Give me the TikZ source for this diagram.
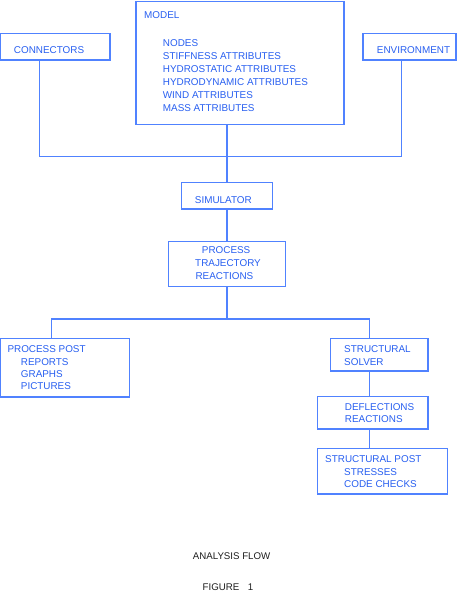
\documentclass[tikz,border=0pt]{standalone}
\usepackage{fontspec}
\setmainfont{Liberation Sans}
\definecolor{txtblue}{RGB}{40,95,240}
\definecolor{lineblue}{RGB}{80,130,255}
\definecolor{capgrey}{RGB}{30,30,30}
\tikzset{
  box/.style={draw=lineblue, line width=1.3pt, rectangle, inner sep=0pt},
  lbl/.style={anchor=base west, inner sep=0pt, text=txtblue, font=\fontsize{9.9}{11}\selectfont},
  captxt/.style={anchor=base west, inner sep=0pt, text=capgrey, font=\fontsize{9.7}{11}\selectfont},
  wire/.style={draw=lineblue, line width=1.3pt}
}
\begin{document}
\begin{tikzpicture}[x=1pt,y=-1pt]
\useasboundingbox (0,0) rectangle (457,591);
% boxes
\node[box, minimum width=208pt, minimum height=123.2pt] (model) at (240,63.1) {};
\node[box, minimum width=109.3pt, minimum height=26.7pt] (conn) at (55.3,46.7) {};
\node[box, minimum width=93pt, minimum height=26.7pt] (env) at (409.5,46.7) {};
\node[box, minimum width=90.6pt, minimum height=26.3pt] (sim) at (227,195.8) {};
\node[box, minimum width=117pt, minimum height=45.4pt] (proc) at (227.2,264) {};
\node[box, minimum width=129pt, minimum height=58.7pt] (ppost) at (65.2,367.7) {};
\node[box, minimum width=97.3pt, minimum height=32.7pt] (ssolv) at (379.3,354.7) {};
\node[box, minimum width=110.3pt, minimum height=32.3pt] (defl) at (372.8,412.8) {};
\node[box, minimum width=129.6pt, minimum height=45.3pt] (spost) at (382.5,471.3) {};
% texts
\node[lbl] (tmodel) at (144,18.3) {MODEL};
\node[lbl] (t1) at (162.7,46.2) {NODES};
\node[lbl] (t2) at (162.7,59.4) {STIFFNESS ATTRIBUTES};
\node[lbl] (t3) at (162.7,72.4) {HYDROSTATIC ATTRIBUTES};
\node[lbl] (t4) at (162.7,85.4) {HYDRODYNAMIC ATTRIBUTES};
\node[lbl] (t5) at (162.7,98.4) {WIND ATTRIBUTES};
\node[lbl] (t6) at (162.7,111.4) {MASS ATTRIBUTES};
\node[lbl] (tconn) at (13.7,53.3) {CONNECTORS};
\node[lbl] (tenv) at (376.7,53.3) {ENVIRONMENT};
\node[lbl] (tsim) at (194.7,203) {SIMULATOR};
\node[lbl] (tp1) at (201.7,253.7) {PROCESS};
\node[lbl] (tp2) at (195,266.7) {TRAJECTORY};
\node[lbl] (tp3) at (195.3,279.3) {REACTIONS};
\node[lbl] (tpp1) at (7.3,352) {PROCESS POST};
\node[lbl] (tpp2) at (20.7,365) {REPORTS};
\node[lbl] (tpp3) at (20.7,377.7) {GRAPHS};
\node[lbl] (tpp4) at (20.7,389.7) {PICTURES};
\node[lbl] (ts1) at (344,352) {STRUCTURAL};
\node[lbl] (ts2) at (344,365) {SOLVER};
\node[lbl] (td1) at (344.7,410) {DEFLECTIONS};
\node[lbl] (td2) at (344.7,422.7) {REACTIONS};
\node[lbl] (tsp1) at (325,462) {STRUCTURAL POST};
\node[lbl] (tsp2) at (344,475) {STRESSES};
\node[lbl] (tsp3) at (344,487.7) {CODE CHECKS};
\node[captxt] (capt) at (192.7,559.8) {ANALYSIS FLOW};
\node[captxt] (fig) at (202.5,590.3) {FIGURE\hspace{8.5pt}1};
% junctions
\coordinate (j1) at (227,156.7);
\coordinate (cl) at (39.3,156.7);
\coordinate (cr) at (401.7,156.7);
\coordinate (j2) at (227,319);
\coordinate (bl) at (51.7,319);
\coordinate (br) at (369.3,319);
% connectors
\draw[wire] (cl |- conn.south) -- (cl) -- (cr) -- (cr |- env.south);
\draw[wire] (model.south -| j1) -- (j1) -- (sim.north -| j1);
\draw[wire] (sim.south -| j1) -- (proc.north -| j1);
\draw[wire] (proc.south -| j2) -- (j2);
\draw[wire] (bl |- ppost.north) -- (bl) -- (br) -- (br |- ssolv.north);
\draw[wire] (ssolv.south -| br) -- (defl.north -| br);
\draw[wire] (defl.south -| br) -- (spost.north -| br);
\end{tikzpicture}
\end{document}
